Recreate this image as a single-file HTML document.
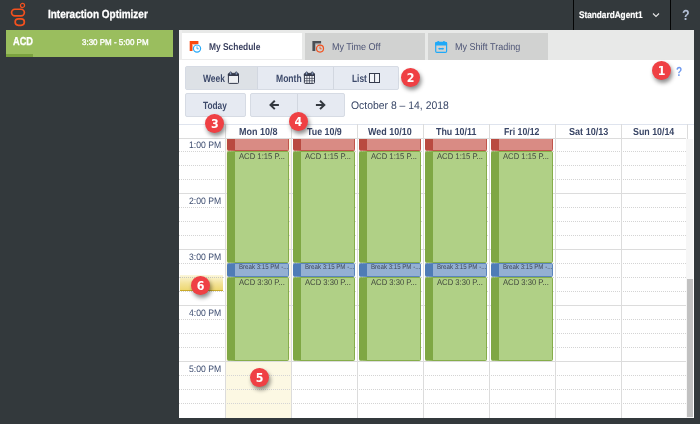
<!DOCTYPE html>
<html><head><meta charset="utf-8"><title>Interaction Optimizer</title>
<style>
html,body{margin:0;padding:0}
body{width:700px;height:424px;overflow:hidden;background:#33393c;font-family:"Liberation Sans",sans-serif;position:relative}
.a{position:absolute}
.t{position:absolute;white-space:nowrap;line-height:1;transform-origin:0 0;text-rendering:geometricPrecision}
.b{font-weight:bold}
.btn{position:absolute;box-sizing:border-box;background:#e6eaf2;border:1px solid #d6dbe4}
.badge{position:absolute;width:18.8px;height:18.8px;border-radius:50%;background:#ef4044;box-shadow:1.5px 3px 4px rgba(0,0,0,.45);color:#fff;font-family:"DejaVu Sans","Liberation Sans",sans-serif;font-stretch:condensed;font-weight:bold;font-size:12.3px;line-height:20.4px;text-align:center}
.hl{position:absolute;height:0;border-top:1px solid #dcdcdc;left:179px;width:507.4px}
.dl{position:absolute;height:0;border-top:1px dotted #d4d4d4;left:179px;width:507.4px}
.vl{position:absolute;width:1px;background:#dcdcdc;top:124px;height:293.6px}
.ev{position:absolute;box-sizing:border-box;overflow:hidden}
</style></head><body>

<div class="a" style="left:573px;top:0;width:1px;height:30px;background:#040505"></div>
<div class="a" style="left:670px;top:0;width:1px;height:30px;background:#040505"></div>
<svg class="a" style="left:9px;top:2px" width="20" height="26" viewBox="0 0 20 26">
<circle cx="13.5" cy="3.5" r="2.05" fill="none" stroke="#f4511e" stroke-width="1.2"/>
<rect x="2.55" y="7.25" width="12.8" height="6.7" rx="3.35" fill="none" stroke="#f4511e" stroke-width="1.7"/>
<rect x="6.15" y="16.85" width="9.2" height="6.5" rx="3.25" fill="none" stroke="#f4511e" stroke-width="1.7"/>
</svg>
<div class="t b" style="left:48.10px;top:8px;font-size:11.70px;line-height:13px;color:#fff;transform:scaleX(0.8537);-webkit-text-stroke:.3px #fff;">Interaction Optimizer</div>
<div class="t b" style="left:579.00px;top:10px;font-size:9.60px;line-height:11px;color:#fff;transform:scaleX(0.8578);-webkit-text-stroke:.2px #fff;">StandardAgent1</div>
<svg class="a" style="left:652px;top:12px" width="8" height="6" viewBox="0 0 8 6"><path d="M1 1.5 L4 4.5 L7 1.5" fill="none" stroke="#e8e8e8" stroke-width="1.1"/></svg>
<div class="t b" style="left:682.20px;top:8px;font-size:14.60px;line-height:16px;color:#b4c0d6;transform:scaleX(0.8520);">?</div>
<div class="a" style="left:6px;top:30px;width:167px;height:26.7px;background:#9abe5e"></div>
<div class="a" style="left:6px;top:54px;width:27px;height:2.7px;background:#7ba23f"></div>
<div class="t b" style="left:13.10px;top:36px;font-size:11.50px;line-height:12px;color:#fff;transform:scaleX(0.8027);-webkit-text-stroke:.3px #fff;">ACD</div>
<div class="t" style="left:82.30px;top:37px;font-size:8.30px;line-height:10px;color:#fff;transform:scaleX(0.9625);-webkit-text-stroke:.35px #fff;">3:30 PM - 5:00 PM</div>
<div class="a" style="left:179px;top:30px;width:514.5px;height:387.6px;background:#fff"></div>
<div class="a" style="left:179px;top:30px;width:514.5px;height:29.6px;background:#e8e9e8"></div>
<div class="a" style="left:179px;top:30px;width:3px;height:29.6px;background:#ededed"></div>
<div class="a" style="left:182px;top:33px;width:120.4px;height:27px;background:#fff"></div>
<div class="a" style="left:305px;top:33px;width:120px;height:26.6px;background:#d1d2d1"></div>
<div class="a" style="left:428px;top:33px;width:120px;height:26.6px;background:#d1d2d1"></div>
<div class="a" style="left:182px;top:59px;width:120.4px;height:1px;background:#ececec"></div>
<svg class="a" style="left:188px;top:40px" width="16" height="14" viewBox="0 0 16 14">
<path d="M1.7 0.9 h8.7 v3.2 h-5.9 v6.8 h-2.8 z" fill="#f9480f"/>
<path d="M4.5 4.1 h4 v1 h-4 z" fill="#fcb7a0"/>
<circle cx="9" cy="8.6" r="3.6" fill="#fff" stroke="#27a9f8" stroke-width="1.2"/>
<path d="M9 6.4 v2.4 h1.7" fill="none" stroke="#27a9f8" stroke-width="0.9"/>
</svg>
<svg class="a" style="left:311px;top:40px" width="16" height="14" viewBox="0 0 16 14">
<path d="M1.4 1.1 h8.7 v2.5 h-5.8 v7.4 h-2.9 z" fill="#4b4f55"/>
<path d="M4.3 3.6 h5.8 v0.9 h-5.8 z" fill="#9a9c9e"/>
<circle cx="9" cy="8.6" r="3.5" fill="#d1d2d1" stroke="#f4511e" stroke-width="1.2"/>
<path d="M9 6.5 v2.3 h1.7" fill="none" stroke="#f4511e" stroke-width="0.9"/>
</svg>
<svg class="a" style="left:434px;top:40px" width="15" height="15" viewBox="0 0 15 15">
<rect x="1.7" y="2.4" width="10.9" height="10" rx="1.2" fill="none" stroke="#1fa9f8" stroke-width="1.2"/>
<rect x="1.2" y="2" width="11.9" height="3.6" rx="1" fill="#1fa9f8"/>
<rect x="3.5" y="0.9" width="1.6" height="3" rx=".7" fill="#1fa9f8"/><rect x="9.1" y="0.9" width="1.6" height="3" rx=".7" fill="#1fa9f8"/>
<path d="M4 8.8 l1.5 -1.3 v0.6 h3.2 v-0.6 l1.5 1.3 l-1.5 1.3 v-0.6 h-3.2 v0.6 z" fill="#1fa9f8"/>
</svg>
<div class="t b" style="left:208.80px;top:42px;font-size:9.90px;line-height:11px;color:#3b4160;transform:scaleX(0.8510);">My Schedule</div>
<div class="t" style="left:331.80px;top:42px;font-size:9.90px;line-height:11px;color:#4d5475;transform:scaleX(0.9137);">My Time Off</div>
<div class="t" style="left:454.60px;top:42px;font-size:9.90px;line-height:11px;color:#4d5475;transform:scaleX(0.9143);">My Shift Trading</div>
<div class="btn" style="left:185px;top:66px;width:213.5px;height:23.6px;border-radius:2px"></div>
<div class="a" style="left:186px;top:67px;width:71px;height:21.6px;background:#dde1e6"></div>
<div class="a" style="left:257px;top:67px;width:1px;height:21.6px;background:#d2d7e0"></div>
<div class="a" style="left:333px;top:67px;width:1px;height:21.6px;background:#d2d7e0"></div>
<div class="t b" style="left:203.40px;top:73px;font-size:10.60px;line-height:12px;color:#3d4a6b;transform:scaleX(0.7996);">Week</div>
<div class="t b" style="left:276.00px;top:73px;font-size:10.60px;line-height:12px;color:#3d4a6b;transform:scaleX(0.8086);">Month</div>
<div class="t b" style="left:352.10px;top:73px;font-size:10.60px;line-height:12px;color:#3d4a6b;transform:scaleX(0.7853);">List</div>
<svg class="a" style="left:227px;top:71px" width="14" height="14" viewBox="0 0 14 14">
<rect x="1.4" y="2.4" width="10.1" height="10" rx=".8" fill="#eef0f3" stroke="#343a4c" stroke-width="1"/>
<rect x="0.9" y="2.7" width="11.1" height="2.3" fill="#343a4c"/>
<rect x="2.7" y="0.9" width="1.9" height="3" rx=".9" fill="#9fb4d8" stroke="#343a4c" stroke-width=".8"/><rect x="8.3" y="0.9" width="1.9" height="3" rx=".9" fill="#9fb4d8" stroke="#343a4c" stroke-width=".8"/>
</svg>
<svg class="a" style="left:303px;top:71px" width="14" height="14" viewBox="0 0 14 14">
<rect x="1.4" y="2.4" width="10.1" height="10" rx=".8" fill="#f2f4f8" stroke="#343a4c" stroke-width="1"/>
<rect x="0.9" y="2.7" width="11.1" height="2.3" fill="#343a4c"/>
<rect x="2.7" y="0.9" width="1.9" height="3" rx=".9" fill="#9fb4d8" stroke="#343a4c" stroke-width=".8"/><rect x="8.3" y="0.9" width="1.9" height="3" rx=".9" fill="#9fb4d8" stroke="#343a4c" stroke-width=".8"/>
<path d="M1.4 7.4 h10.1 M1.4 9.8 h10.1 M3.9 4.9 v7.5 M6.45 4.9 v7.5 M9 4.9 v7.5" stroke="#343a4c" stroke-width=".7" fill="none"/>
</svg>
<svg class="a" style="left:368px;top:72px" width="14" height="12" viewBox="0 0 14 12">
<rect x="1.5" y="1.5" width="10" height="9" fill="#f2f4f8" stroke="#343a4c" stroke-width="1"/>
<path d="M6.6 1.5 v9" stroke="#343a4c" stroke-width="1"/>
</svg>
<div class="btn" style="left:185px;top:93.2px;width:60.7px;height:23.4px;border-radius:2px"></div>
<div class="t b" style="left:203.30px;top:100px;font-size:10.50px;line-height:12px;color:#3d4a6b;transform:scaleX(0.7896);">Today</div>
<div class="btn" style="left:250.3px;top:93.2px;width:94.4px;height:23.4px;border-radius:2px"></div>
<div class="a" style="left:297px;top:94.2px;width:1px;height:21.4px;background:#d2d7e0"></div>
<svg class="a" style="left:268px;top:99px" width="12" height="12" viewBox="0 0 12 12">
<path d="M10.9 5.9 H3 M6.8 1.7 L2.5 5.9 L6.8 10.1" fill="none" stroke="#33383f" stroke-width="2"/></svg>
<svg class="a" style="left:315px;top:99px" width="12" height="12" viewBox="0 0 12 12">
<path d="M0.9 5.9 H8.8 M5 1.7 L9.3 5.9 L5 10.1" fill="none" stroke="#33383f" stroke-width="2"/></svg>
<div class="t" style="left:351.10px;top:100px;font-size:11.00px;line-height:12px;color:#3a4868;transform:scaleX(0.9463);">October 8 – 14, 2018</div>
<div class="t b" style="left:676.20px;top:64px;font-size:13.20px;line-height:15px;color:#6f99ee;transform:scaleX(0.7687);">?</div>
<div class="a" style="left:179px;top:123.5px;width:514.5px;height:1px;background:#dfe4ee"></div>
<div class="a" style="left:226px;top:139px;width:65.4px;height:278.6px;background:#fcf8e3"></div>
<div class="hl" style="top:138px"></div>
<div class="dl" style="top:151px"></div>
<div class="dl" style="top:165px"></div>
<div class="dl" style="top:179px"></div>
<div class="hl" style="top:193px"></div>
<div class="dl" style="top:207px"></div>
<div class="dl" style="top:221px"></div>
<div class="dl" style="top:235px"></div>
<div class="hl" style="top:249px"></div>
<div class="dl" style="top:263px"></div>
<div class="dl" style="top:277px"></div>
<div class="dl" style="top:291px"></div>
<div class="hl" style="top:305px"></div>
<div class="dl" style="top:319px"></div>
<div class="dl" style="top:333px"></div>
<div class="dl" style="top:347px"></div>
<div class="hl" style="top:361px"></div>
<div class="dl" style="top:375px"></div>
<div class="dl" style="top:389px"></div>
<div class="dl" style="top:403px"></div>
<div class="vl" style="left:225.0px"></div>
<div class="vl" style="left:291.0px"></div>
<div class="vl" style="left:357.0px"></div>
<div class="vl" style="left:423.0px"></div>
<div class="vl" style="left:489.0px"></div>
<div class="vl" style="left:555.0px"></div>
<div class="vl" style="left:621.0px"></div>
<div class="vl" style="left:687.0px"></div>
<div class="a" style="left:686.4px;top:139px;width:7.1px;height:278.6px;background:#f6f6f6"></div>
<div class="a" style="left:687.1px;top:279px;width:6px;height:137.6px;background:#c1c1c1"></div>
<div class="a" style="left:180px;top:275px;width:43px;height:16px;background:linear-gradient(#fcf7dc,#f3e39a 55%,#eed872);border-bottom:1px solid #c9aa2c;box-sizing:border-box"></div>
<div class="a" style="left:180px;top:277px;width:43px;height:0;border-top:1px dotted #c9c9bd"></div>
<div class="t" style="left:189.00px;top:139px;font-size:9.40px;line-height:11px;color:#3d4d70;transform:scaleX(0.9199);">1:00 PM</div>
<div class="t" style="left:189.00px;top:195px;font-size:9.40px;line-height:11px;color:#3d4d70;transform:scaleX(0.9199);">2:00 PM</div>
<div class="t" style="left:189.00px;top:251px;font-size:9.40px;line-height:11px;color:#3d4d70;transform:scaleX(0.9199);">3:00 PM</div>
<div class="t" style="left:189.00px;top:307px;font-size:9.40px;line-height:11px;color:#3d4d70;transform:scaleX(0.9199);">4:00 PM</div>
<div class="t" style="left:189.00px;top:363px;font-size:9.40px;line-height:11px;color:#3d4d70;transform:scaleX(0.9199);">5:00 PM</div>
<div class="t b" style="left:238.90px;top:127px;font-size:10.20px;line-height:11px;color:#3a4666;transform:scaleX(0.8821);">Mon 10/8</div>
<div class="t b" style="left:306.90px;top:127px;font-size:10.20px;line-height:11px;color:#3a4666;transform:scaleX(0.8686);">Tue 10/9</div>
<div class="t b" style="left:368.00px;top:127px;font-size:10.20px;line-height:11px;color:#3a4666;transform:scaleX(0.8792);">Wed 10/10</div>
<div class="t b" style="left:435.60px;top:127px;font-size:10.20px;line-height:11px;color:#3a4666;transform:scaleX(0.8691);">Thu 10/11</div>
<div class="t b" style="left:504.20px;top:127px;font-size:10.20px;line-height:11px;color:#3a4666;transform:scaleX(0.8577);">Fri 10/12</div>
<div class="t b" style="left:568.60px;top:127px;font-size:10.20px;line-height:11px;color:#3a4666;transform:scaleX(0.8908);">Sat 10/13</div>
<div class="t b" style="left:633.40px;top:127px;font-size:10.20px;line-height:11px;color:#3a4666;transform:scaleX(0.8672);">Sun 10/14</div>
<div class="ev" style="left:227px;top:138.8px;width:62px;height:11.8px;background:#d98b84;border:1px solid #c0554b;border-top:0;border-left:8px solid #b94a40;border-radius:0 0 2px 2px"></div>
<div class="ev" style="left:227px;top:151.2px;width:62px;height:111.6px;background:#b0d086;border:1px solid #86ad4b;border-left:8px solid #7fa744;border-radius:2px"></div>
<div class="t" style="left:239.00px;top:151px;font-size:8.30px;line-height:10px;color:#40473d;transform:scaleX(0.9260);">ACD 1:15 P...</div>
<div class="ev" style="left:227px;top:263.2px;width:62px;height:13.4px;background:#94b0d3;border:1px solid #5a84bb;border-left:8px solid #4f7cb6;border-radius:2px"></div>
<div class="t" style="left:238.50px;top:264px;font-size:7.00px;line-height:7px;color:#3c4658;transform:scaleX(0.8740);">Break 3:15 PM -...</div>
<div class="ev" style="left:227px;top:277.2px;width:62px;height:83.4px;background:#b0d086;border:1px solid #86ad4b;border-left:8px solid #7fa744;border-radius:2px"></div>
<div class="t" style="left:239.00px;top:277px;font-size:8.40px;line-height:10px;color:#40473d;transform:scaleX(0.9150);">ACD 3:30 P...</div>
<div class="ev" style="left:293px;top:138.8px;width:62px;height:11.8px;background:#d98b84;border:1px solid #c0554b;border-top:0;border-left:8px solid #b94a40;border-radius:0 0 2px 2px"></div>
<div class="ev" style="left:293px;top:151.2px;width:62px;height:111.6px;background:#b0d086;border:1px solid #86ad4b;border-left:8px solid #7fa744;border-radius:2px"></div>
<div class="t" style="left:305.00px;top:151px;font-size:8.30px;line-height:10px;color:#40473d;transform:scaleX(0.9260);">ACD 1:15 P...</div>
<div class="ev" style="left:293px;top:263.2px;width:62px;height:13.4px;background:#94b0d3;border:1px solid #5a84bb;border-left:8px solid #4f7cb6;border-radius:2px"></div>
<div class="t" style="left:304.50px;top:264px;font-size:7.00px;line-height:7px;color:#3c4658;transform:scaleX(0.8740);">Break 3:15 PM -...</div>
<div class="ev" style="left:293px;top:277.2px;width:62px;height:83.4px;background:#b0d086;border:1px solid #86ad4b;border-left:8px solid #7fa744;border-radius:2px"></div>
<div class="t" style="left:305.00px;top:277px;font-size:8.40px;line-height:10px;color:#40473d;transform:scaleX(0.9150);">ACD 3:30 P...</div>
<div class="ev" style="left:359px;top:138.8px;width:62px;height:11.8px;background:#d98b84;border:1px solid #c0554b;border-top:0;border-left:8px solid #b94a40;border-radius:0 0 2px 2px"></div>
<div class="ev" style="left:359px;top:151.2px;width:62px;height:111.6px;background:#b0d086;border:1px solid #86ad4b;border-left:8px solid #7fa744;border-radius:2px"></div>
<div class="t" style="left:371.00px;top:151px;font-size:8.30px;line-height:10px;color:#40473d;transform:scaleX(0.9260);">ACD 1:15 P...</div>
<div class="ev" style="left:359px;top:263.2px;width:62px;height:13.4px;background:#94b0d3;border:1px solid #5a84bb;border-left:8px solid #4f7cb6;border-radius:2px"></div>
<div class="t" style="left:370.50px;top:264px;font-size:7.00px;line-height:7px;color:#3c4658;transform:scaleX(0.8740);">Break 3:15 PM -...</div>
<div class="ev" style="left:359px;top:277.2px;width:62px;height:83.4px;background:#b0d086;border:1px solid #86ad4b;border-left:8px solid #7fa744;border-radius:2px"></div>
<div class="t" style="left:371.00px;top:277px;font-size:8.40px;line-height:10px;color:#40473d;transform:scaleX(0.9150);">ACD 3:30 P...</div>
<div class="ev" style="left:425px;top:138.8px;width:62px;height:11.8px;background:#d98b84;border:1px solid #c0554b;border-top:0;border-left:8px solid #b94a40;border-radius:0 0 2px 2px"></div>
<div class="ev" style="left:425px;top:151.2px;width:62px;height:111.6px;background:#b0d086;border:1px solid #86ad4b;border-left:8px solid #7fa744;border-radius:2px"></div>
<div class="t" style="left:437.00px;top:151px;font-size:8.30px;line-height:10px;color:#40473d;transform:scaleX(0.9260);">ACD 1:15 P...</div>
<div class="ev" style="left:425px;top:263.2px;width:62px;height:13.4px;background:#94b0d3;border:1px solid #5a84bb;border-left:8px solid #4f7cb6;border-radius:2px"></div>
<div class="t" style="left:436.50px;top:264px;font-size:7.00px;line-height:7px;color:#3c4658;transform:scaleX(0.8740);">Break 3:15 PM -...</div>
<div class="ev" style="left:425px;top:277.2px;width:62px;height:83.4px;background:#b0d086;border:1px solid #86ad4b;border-left:8px solid #7fa744;border-radius:2px"></div>
<div class="t" style="left:437.00px;top:277px;font-size:8.40px;line-height:10px;color:#40473d;transform:scaleX(0.9150);">ACD 3:30 P...</div>
<div class="ev" style="left:491px;top:138.8px;width:62px;height:11.8px;background:#d98b84;border:1px solid #c0554b;border-top:0;border-left:8px solid #b94a40;border-radius:0 0 2px 2px"></div>
<div class="ev" style="left:491px;top:151.2px;width:62px;height:111.6px;background:#b0d086;border:1px solid #86ad4b;border-left:8px solid #7fa744;border-radius:2px"></div>
<div class="t" style="left:503.00px;top:151px;font-size:8.30px;line-height:10px;color:#40473d;transform:scaleX(0.9260);">ACD 1:15 P...</div>
<div class="ev" style="left:491px;top:263.2px;width:62px;height:13.4px;background:#94b0d3;border:1px solid #5a84bb;border-left:8px solid #4f7cb6;border-radius:2px"></div>
<div class="t" style="left:502.50px;top:264px;font-size:7.00px;line-height:7px;color:#3c4658;transform:scaleX(0.8740);">Break 3:15 PM -...</div>
<div class="ev" style="left:491px;top:277.2px;width:62px;height:83.4px;background:#b0d086;border:1px solid #86ad4b;border-left:8px solid #7fa744;border-radius:2px"></div>
<div class="t" style="left:503.00px;top:277px;font-size:8.40px;line-height:10px;color:#40473d;transform:scaleX(0.9150);">ACD 3:30 P...</div>
<div class="badge" style="left:652.2px;top:61.0px">1</div>
<div class="badge" style="left:401.2px;top:67.8px">2</div>
<div class="badge" style="left:205.4px;top:114.2px">3</div>
<div class="badge" style="left:288.9px;top:111.9px">4</div>
<div class="badge" style="left:250.1px;top:367.8px">5</div>
<div class="badge" style="left:191.3px;top:276.0px">6</div>
</body></html>
